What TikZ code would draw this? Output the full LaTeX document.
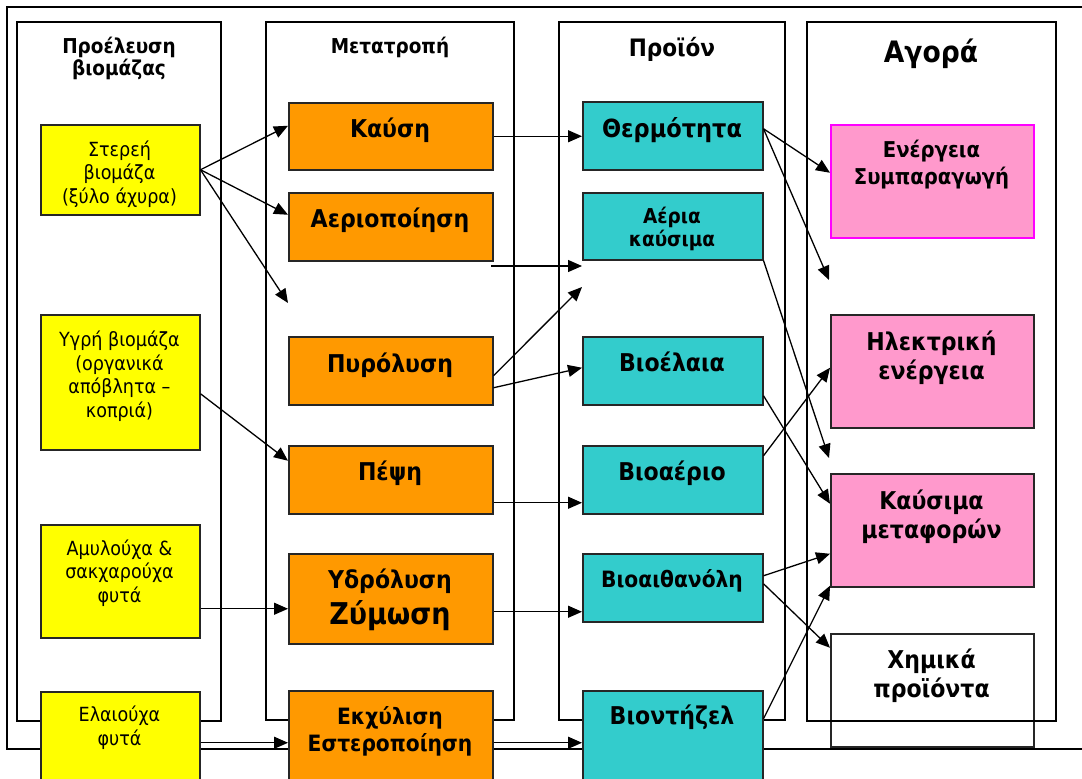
\documentclass[tikz,border=0pt]{standalone}
\usepackage{fontspec}
\setmainfont{DejaVu Sans Condensed}
\usetikzlibrary{arrows.meta}
\definecolor{ylw}{HTML}{FFFF00}
\definecolor{org}{HTML}{FF9900}
\definecolor{cyn}{HTML}{33CCCC}
\definecolor{pnk}{HTML}{FF99CC}
\definecolor{mag}{HTML}{FF00FF}
\tikzset{
  col/.style={draw=black, line width=1.5pt},
  bx/.style={draw=black!85, line width=1.5pt, anchor=north west, inner sep=0pt, minimum width=#1},
  ybox/.style={bx=159pt, fill=ylw},
  obox/.style={bx=204pt, fill=org},
  cbox/.style={bx=180pt, fill=cyn},
  pbox/.style={bx=203pt, fill=pnk},
  txt/.style={anchor=base, align=center, inner sep=0pt},
  yt/.style={txt, font=\fontsize{19.5}{23.5}\selectfont},
  bt/.style={txt, font=\bfseries\fontsize{#1}{28}\selectfont},
  arr/.style={line width=1.3pt, -{Triangle[length=14pt,width=12pt]}},
}
\begin{document}
\begin{tikzpicture}[x=1pt,y=-1pt]
\useasboundingbox (0,0) rectangle (1082,779);
% frames
\draw[col] (7,7) rectangle (1100,749);
\draw[col] (17,22) rectangle (221,721);
\draw[col] (266,22) rectangle (514,720);
\draw[col] (559,22) rectangle (785,720);
% column titles
\node[bt=20.5, font=\bfseries\fontsize{20.5}{22}\selectfont] (t1) at (119,75) {Προέλευση\\βιομάζας};
\node[bt=20.5] (t2) at (390,53) {Μετατροπή};
\node[bt=24] (t3) at (672,56) {Προϊόν};
\node[bt=29.5] (t4) at (931,62) {Αγορά};
% biomass sources
\node[ybox, minimum height=90pt] (y1) at (40,124) {};
\node[ybox, minimum height=135pt] (y2) at (40,314) {};
\node[ybox, minimum height=113pt] (y3) at (40,524) {};
\node[ybox, minimum height=110pt] (y4) at (40,691) {};
\node[yt] (y1t) at (119.5,203) {Στερεή\\βιομάζα\\(ξύλο άχυρα)};
\node[yt] (y2t) at (119.5,417) {Υγρή βιομάζα\\(οργανικά\\απόβλητα –\\κοπριά)};
\node[yt] (y3t) at (119.5,602) {Αμυλούχα \&\\σακχαρούχα\\φυτά};
\node[yt] (y4t) at (119.5,745) {Ελαιούχα\\φυτά};
% conversion
\node[obox, minimum height=67pt] (o1) at (288,102) {};
\node[obox, minimum height=68pt] (o2) at (288,192) {};
\node[obox, minimum height=68pt] (o3) at (288,336) {};
\node[obox, minimum height=68pt] (o4) at (288,445) {};
\node[obox, minimum height=90pt] (o5) at (288,553) {};
\node[obox, minimum height=110pt] (o6) at (288,690) {};
\node[bt=24.5] (o1t) at (390,137) {Καύση};
\node[bt=24.5] (o2t) at (390,227) {Αεριοποίηση};
\node[bt=24.5] (o3t) at (390,372) {Πυρόλυση};
\node[bt=24.5] (o4t) at (390,480) {Πέψη};
\node[bt=24.5] (o5t) at (390,588) {Υδρόλυση};
\node[bt=30] (o5u) at (390,624) {Ζύμωση};
\node[bt=22.5, font=\bfseries\fontsize{22.5}{27}\selectfont] (o6t) at (390,751) {Εκχύλιση\\Εστεροποίηση};
% product
\node[cbox, minimum height=68pt] (c1) at (582,101) {};
\node[cbox, minimum height=67pt] (c2) at (582,192) {};
\node[cbox, minimum height=68pt] (c3) at (582,336) {};
\node[cbox, minimum height=68pt] (c4) at (582,445) {};
\node[cbox, minimum height=68pt] (c5) at (582,553) {};
\node[cbox, minimum height=110pt] (c6) at (582,690) {};
\node[bt=25] (c1t) at (672,137) {Θερμότητα};
\node[bt=20.5, font=\bfseries\fontsize{20.5}{23}\selectfont] (c2t) at (672,246) {Αέρια\\καύσιμα};
\node[bt=24.5] (c3t) at (672,371) {Βιοέλαια};
\node[bt=24.5] (c4t) at (672,480) {Βιοαέριο};
\node[bt=22.5] (c5t) at (672,587) {Βιοαιθανόλη};
\node[bt=24.5] (c6t) at (672,724) {Βιοντήζελ};
% market
\node[pbox, draw=mag, minimum height=113pt] (p1) at (830,124) {};
\node[pbox, minimum height=113pt] (p2) at (830,314) {};
\node[pbox, minimum height=113pt] (p3) at (830,473) {};
\node[bx=203pt, minimum height=113pt] (p4) at (830,633) {};
\draw[col] (807,22) rectangle (1056,721);
\node[bt=21.8, font=\bfseries\fontsize{21.8}{27}\selectfont] (p1t) at (931.5,184) {Ενέργεια\\Συμπαραγωγή};
\node[bt=24.5, font=\bfseries\fontsize{24.5}{29}\selectfont] (p2t) at (931.5,379) {Ηλεκτρική\\ενέργεια};
\node[bt=24.5, font=\bfseries\fontsize{24.5}{29}\selectfont] (p3t) at (931.5,538) {Καύσιμα\\μεταφορών};
\node[bt=24.5, font=\bfseries\fontsize{24.5}{29}\selectfont] (p4t) at (931.5,697) {Χημικά\\προϊόντα};
% free ends
\coordinate (f1) at (288,303);
\coordinate (f2) at (491,266);
\coordinate (f3) at (582,266);
\coordinate (f4) at (582,287);
\coordinate (f5) at (829,280);
\coordinate (f6) at (829,458);
% arrows
\draw[arr] (y1.east) -- ([yshift=10.5pt]o1.west);
\draw[arr] (y1.east) -- ([yshift=12pt]o2.west);
\draw[arr] (y1.east) -- (f1);
\draw[arr] ([yshift=-11.5pt]y2.east) -- ([yshift=19pt]o4.west);
\draw[arr] ([yshift=-27.5pt]y3.east) -- ([yshift=-10pt]o5.west);
\draw[arr] ([yshift=4pt]y4.east) -- ([yshift=3pt]o6.west);
\draw[arr] (o1.east) -- (c1.west |- o1.east);
\draw[arr] (f2) -- (f3);
\draw[arr] ([yshift=-5pt]o3.east) -- (f4);
\draw[arr] ([yshift=-17pt]o3.east) -- ([yshift=3pt]c3.west);
\draw[arr] ([yshift=-23pt]o4.east) -- ([yshift=-23pt]c4.west);
\draw[arr] ([yshift=-13pt]o5.east) -- ([yshift=-24pt]c5.west);
\draw[arr] ([yshift=3pt]o6.east) -- ([yshift=3pt]c6.west);
\draw[arr] ([yshift=7pt]c1.east) -- ([yshift=8.5pt]p1.west);
\draw[arr] ([yshift=7pt]c1.east) -- (f5);
\draw[arr] (c2.south east) -- (f6);
\draw[arr] ([yshift=-25pt]c3.east) -- ([yshift=26.5pt]p3.west);
\draw[arr] ([yshift=24pt]c4.east) -- ([yshift=3.5pt]p2.west);
\draw[arr] ([yshift=12pt]c5.east) -- ([yshift=-23.5pt]p3.west);
\draw[arr] ([yshift=4pt]c5.east) -- ([yshift=42.5pt]p4.west);
\draw[arr] ([yshift=27pt]c6.east) -- ([yshift=-55.5pt]p3.west);
\end{tikzpicture}
\end{document}
